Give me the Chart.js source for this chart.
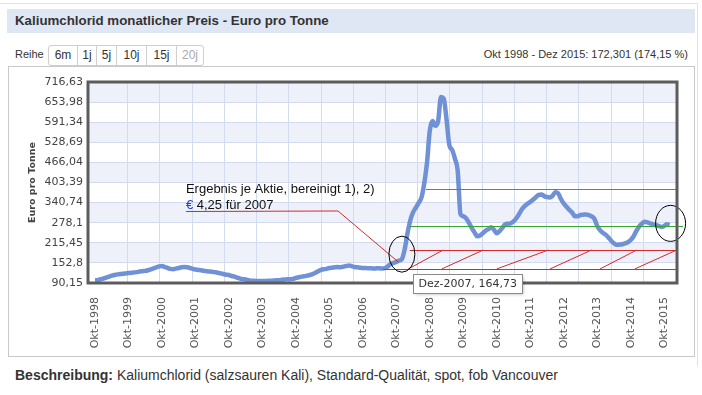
<!DOCTYPE html>
<html>
<head>
<meta charset="utf-8">
<script src="https://cdn.jsdelivr.net/npm/chart.js@4.4.0/dist/chart.umd.min.js"></script>
<style>
  body { margin: 0; background: #fff; font-family: "Liberation Sans", Arial, sans-serif; color: #333; }
  #wrap { position: relative; width: 702px; height: 395px; overflow: hidden; }
  .frame { position: absolute; left: 0; top: 3px; width: 697px; height: 362px; border-top: 1px solid #e2e2e2; border-right: 1px solid #e2e2e2; }
  .head { position: absolute; left: 7px; top: 9px; width: 680px; height: 24px; line-height: 24px; padding-left: 8px; background: #dfe6f4; font-weight: bold; font-size: 13.3px; color: #333; }
  .reihe { position: absolute; left: 15px; top: 48px; font-size: 11px; color: #333; }
  .btns { position: absolute; left: 48px; top: 45px; height: 19px; border: 1px solid #cfcfcf; border-radius: 3px; display: flex; font-size: 12px; }
  .btns span { display: block; height: 19px; line-height: 19px; text-align: center; border-left: 1px solid #cfcfcf; color: #333; }
  .btns span:first-child { border-left: none; }
  .btns .off { color: #aaa; }
  .range { position: absolute; right: 14px; top: 48px; font-size: 11px; color: #333; }
  .panel { position: absolute; left: 8px; top: 66px; width: 685px; height: 289px; border: 1px solid #c9c9c9; }
  .panel canvas { position: absolute; left: 0; top: 0; }
  .desc { position: absolute; left: 15px; top: 367px; font-size: 14px; color: #333; }
</style>
</head>
<body>
<div id="wrap">
  <div class="frame"></div>
  <div class="head">Kaliumchlorid monatlicher Preis - Euro pro Tonne</div>
  <div class="reihe">Reihe</div>
  <div class="btns">
    <span style="width:28px">6m</span><span style="width:18px">1j</span><span style="width:19px">5j</span><span style="width:29px">10j</span><span style="width:29px">15j</span><span class="off" style="width:26px">20j</span>
  </div>
  <div class="range">Okt 1998 - Dez 2015: 172,301 (174,15 %)</div>
  <div class="panel"><canvas id="kcl" width="685" height="289"></canvas></div>
  <div class="desc"><b>Beschreibung:</b> Kaliumchlorid (salzsauren Kali), Standard-Qualität, spot, fob Vancouver</div>
</div>
<script>
// monthly price, Okt 1998 .. Dez 2015
const startYear = 1998;
const startMonth = 9; // Okt
const monthNames = ['Jan', 'Feb', 'Mrz', 'Apr', 'Mai', 'Jun', 'Jul', 'Aug', 'Sep', 'Okt', 'Nov', 'Dez'];

const prices = [
  98.94, 99, 102,                                             // 1998 (Okt-Dez)
  104, 107, 110, 113, 115, 117, 118, 119, 120, 121, 122, 123, // 1999
  124, 126, 127, 128, 130, 133, 136, 139, 142, 143, 140, 137, // 2000
  134, 133, 135, 137, 139, 140, 139, 137, 134, 132, 131, 130, // 2001
  128, 127, 126, 125, 124, 122, 120, 118, 116, 115, 112, 110, // 2002
  107, 104, 102, 101, 99, 97, 97, 96, 96, 96, 96, 97,         // 2003
  97, 98, 99, 99, 100, 101, 102, 102, 103, 106, 108, 110,     // 2004
  111, 113, 115, 118, 122, 127, 131, 133, 134, 137, 138, 139, // 2005
  140, 139, 141, 143, 145, 143, 140, 139, 138, 137, 137, 136, // 2006
  136, 135, 136, 136, 135, 137, 142, 150, 153, 156, 160, 164.73, // 2007
  195, 245, 285, 310, 325, 340, 356, 400, 465, 565, 595, 580, // 2008
  595, 670, 665, 600, 520, 505, 478, 440, 305, 298, 292, 278, // 2009
  262, 248, 236, 238, 245, 253, 258, 264, 256, 245, 252, 262, // 2010
  273, 275, 276, 282, 292, 305, 320, 330, 337, 343, 350, 357, // 2011
  365, 366, 361, 358, 357, 362, 373, 370, 352, 338, 328, 318, // 2012
  310, 298, 298, 302, 303, 304, 302, 298, 290, 268, 255, 247, // 2013
  241, 232, 222, 214, 209, 210, 211, 214, 217, 224, 235, 252, // 2014
  266, 275, 281, 279, 276, 273, 271, 268, 265, 268, 273, 271.24 // 2015
];

const tickLabels = ['Okt-1998', 'Okt-1999', 'Okt-2000', 'Okt-2001', 'Okt-2002', 'Okt-2003',
  'Okt-2004', 'Okt-2005', 'Okt-2006', 'Okt-2007', 'Okt-2008', 'Okt-2009', 'Okt-2010',
  'Okt-2011', 'Okt-2012', 'Okt-2013', 'Okt-2014', 'Okt-2015'];
const yTicks = [90.15, 152.8, 215.45, 278.1, 340.74, 403.39, 466.04, 528.69, 591.34, 653.98, 716.63];

// annotation drawn over the chart: [start month, level]
const greenLevels = [[118.6, 382, 0], [112.8, 267.6, 6]];
const redLevels = [[112.8, 193], [103.3, 134]];
const hatch = [[112.3, 124.8], [124.3, 139.2], [144, 162.5], [163.1, 178], [181, 194.2], [193.5, 208.5]];
const noteLine = [[32.6, 314.6], [87.1, 314.6], [108.6, 156.5]];
const marked = [[110, 180, 13, 18], [206.3, 276, 15, 18]];
const tipIndex = 110;
const gridStep = 11.55;

const fmt = v => String(v).replace('.', ',');

const decor = {
  id: 'decor',
  beforeDraw(chart) {
    const { ctx, chartArea: a, scales: { y } } = chart;
    ctx.save();
    for (let k = 0; k < yTicks.length - 1; k++) {
      const top = y.getPixelForValue(yTicks[k + 1]);
      const bottom = y.getPixelForValue(yTicks[k]);
      ctx.fillStyle = k % 2 ? '#eef1fa' : '#ffffff';
      ctx.fillRect(a.left, top, a.right - a.left, bottom - top);
    }
    ctx.restore();
  },
  beforeDatasetsDraw(chart) {
    const { ctx, chartArea: a, scales: { x } } = chart;
    ctx.save();
    ctx.strokeStyle = '#d3dbee';
    ctx.lineWidth = 1;
    for (let k = 1; k * gridStep < 206; k++) {
      const px = Math.round(x.getPixelForValue(k * gridStep)) + 0.5;
      ctx.beginPath();
      ctx.moveTo(px, a.top);
      ctx.lineTo(px, a.bottom);
      ctx.stroke();
    }
    ctx.restore();
  },
  afterDatasetsDraw(chart) {
    const { ctx, chartArea: a, scales: { x, y } } = chart;
    const X = v => x.getPixelForValue(v), Y = v => y.getPixelForValue(v);
    ctx.save();
    ctx.lineWidth = 1;

    ctx.strokeStyle = '#36a536';
    greenLevels.forEach(([m, v, ext]) => {
      const py = Math.round(Y(v)) + 0.5;
      ctx.beginPath(); ctx.moveTo(X(m), py); ctx.lineTo(a.right + ext, py); ctx.stroke();
    });

    ctx.strokeStyle = '#d42a2a';
    redLevels.forEach(([m, v]) => {
      const py = Math.round(Y(v)) + 0.5;
      ctx.beginPath(); ctx.moveTo(X(m), py); ctx.lineTo(a.right, py); ctx.stroke();
    });
    hatch.forEach(([m0, m1]) => {
      ctx.beginPath();
      ctx.moveTo(X(m0), Y(redLevels[1][1]));
      ctx.lineTo(Math.min(X(m1), a.right), Y(redLevels[0][1]));
      ctx.stroke();
    });
    ctx.beginPath();
    noteLine.forEach(([m, v], k) => k ? ctx.lineTo(X(m), Y(v)) : ctx.moveTo(X(m), Math.round(Y(v)) + 0.5));
    ctx.stroke();

    // note text
    const tx = X(noteLine[0][0]), ty = Y(noteLine[0][1]);
    ctx.font = '13px "Liberation Sans", Arial, sans-serif';
    ctx.textBaseline = 'alphabetic';
    ctx.fillStyle = '#111';
    ctx.fillText('Ergebnis je Aktie, bereinigt 1), 2)', tx, ty - 18);
    ctx.fillStyle = '#1f3fd6';
    ctx.fillText('€', tx, ty - 2);
    const ew = ctx.measureText('€').width;
    ctx.fillStyle = '#111';
    ctx.fillText(' 4,25 für 2007', tx + ew, ty - 2);

    // circles
    ctx.strokeStyle = '#000';
    marked.forEach(([m, v, rx, ry]) => {
      ctx.beginPath(); ctx.ellipse(X(m), Y(v), rx, ry, 0, 0, Math.PI * 2); ctx.stroke();
    });

    // plot frame
    ctx.strokeStyle = '#5c5c5c';
    ctx.lineWidth = 3;
    ctx.strokeRect(a.left, a.top, a.right - a.left, a.bottom - a.top);

    // hover box
    const mi = startMonth + tipIndex;
    const tip = monthNames[mi % 12] + '-' + (startYear + Math.floor(mi / 12)) + ', ' + fmt(prices[tipIndex]);
    ctx.font = '11px "DejaVu Sans", Verdana, sans-serif';
    const bx = Math.round(X(tipIndex)) + 11.5, by = Math.round(Y(prices[tipIndex])) + 15.5;
    const bw = Math.ceil(ctx.measureText(tip).width) + 10, bh = 19;
    ctx.lineWidth = 1;
    ctx.shadowColor = 'rgba(0,0,0,0.25)';
    ctx.shadowBlur = 3; ctx.shadowOffsetX = 1; ctx.shadowOffsetY = 1;
    ctx.fillStyle = '#fff';
    ctx.fillRect(bx, by, bw, bh);
    ctx.shadowColor = 'transparent';
    ctx.strokeStyle = '#8a8a8a';
    ctx.strokeRect(bx, by, bw, bh);
    ctx.fillStyle = '#333';
    ctx.textBaseline = 'middle';
    ctx.fillText(tip, bx + 5, by + bh / 2 + 0.5);
    ctx.restore();
  }
};

new Chart(document.getElementById('kcl'), {
  type: 'line',
  data: {
    datasets: [{
      label: 'Euro pro Tonne',
      data: prices.map((v, i) => ({ x: i, y: v })),
      borderColor: 'rgb(112,145,213)',
      borderWidth: 4.5,
      pointRadius: 0,
      cubicInterpolationMode: 'monotone',
      fill: false
    }]
  },
  options: {
    responsive: false,
    animation: false,
    layout: { padding: { left: 0, right: 17, top: 15, bottom: 0 } },
    plugins: { legend: { display: false }, tooltip: { enabled: false } },
    scales: {
      x: {
        type: 'linear',
        min: -2.5,
        max: 208.6,
        afterBuildTicks: s => { s.ticks = tickLabels.map((_, k) => ({ value: k * 12 })); },
        afterFit: s => { s.height = 73; },
        grid: { display: false },
        border: { display: false },
        ticks: {
          autoSkip: false, minRotation: 90, maxRotation: 90, padding: 6,
          color: '#555', font: { family: 'DejaVu Sans', size: 11 },
          callback: (v, k) => tickLabels[k]
        }
      },
      y: {
        min: 90.15,
        max: 716.63,
        afterBuildTicks: s => { s.ticks = yTicks.map(v => ({ value: v })); },
        afterFit: s => { s.width = 79; },
        grid: { color: '#d3dbee', drawTicks: false },
        border: { display: false },
        ticks: {
          padding: 5, color: '#444', font: { family: 'DejaVu Sans', size: 11 },
          callback: v => fmt(v)
        },
        title: {
          display: true, text: 'Euro pro Tonne', color: '#444',
          font: { family: 'DejaVu Sans', size: 9.5, weight: 'bold' },
          padding: { top: 18, bottom: 0 }
        }
      }
    }
  },
  plugins: [decor]
});
</script>
</body>
</html>
